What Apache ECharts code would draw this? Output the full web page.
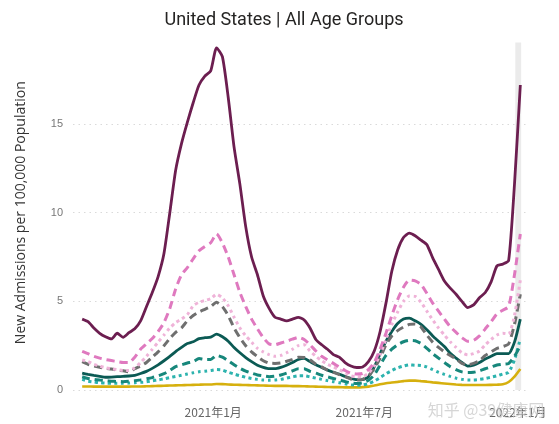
<!DOCTYPE html>
<html><head><meta charset="utf-8">
<script src="https://cdn.jsdelivr.net/npm/echarts@6/dist/echarts.min.js"></script>
<style>html,body{margin:0;padding:0;background:#fff}#c{width:559px;height:424px}</style>
</head><body><div id="c"></div>
<script>
const titleText = 'United States | All Age Groups';
const yAxisName = 'New Admissions per 100,000 Population';
const xTickDates = ['2021-01-01', '2021-07-01', '2022-01-01'];
const yTicks = [0, 5, 10, 15];
const dates = [
 '2020-07-28','2020-08-04','2020-08-11','2020-08-18','2020-08-25','2020-09-01','2020-09-08','2020-09-15','2020-09-22','2020-09-29',
 '2020-10-06','2020-10-13','2020-10-20','2020-10-27','2020-11-03','2020-11-10','2020-11-17','2020-11-24','2020-12-01','2020-12-08',
 '2020-12-15','2020-12-22','2020-12-29','2021-01-05','2021-01-12','2021-01-19','2021-01-26','2021-02-02','2021-02-09','2021-02-16',
 '2021-02-23','2021-03-02','2021-03-09','2021-03-16','2021-03-23','2021-03-30','2021-04-06','2021-04-13','2021-04-20','2021-04-27',
 '2021-05-04','2021-05-11','2021-05-18','2021-05-25','2021-06-01','2021-06-08','2021-06-15','2021-06-22','2021-06-29','2021-07-06',
 '2021-07-13','2021-07-20','2021-07-27','2021-08-03','2021-08-10','2021-08-17','2021-08-24','2021-08-31','2021-09-07','2021-09-14',
 '2021-09-21','2021-09-28','2021-10-05','2021-10-12','2021-10-19','2021-10-26','2021-11-02','2021-11-09','2021-11-16','2021-11-23',
 '2021-11-30','2021-12-07','2021-12-14','2021-12-21','2021-12-28','2022-01-04'
];
const highlightRange = ['2021-12-29', '2022-01-05'];

const yellowSolid = [0.2,0.2,0.19,0.19,0.19,0.19,0.19,0.19,0.19,0.2,
 0.2,0.21,0.22,0.23,0.24,0.25,0.26,0.27,0.28,0.29,
 0.3,0.31,0.31,0.34,0.33,0.31,0.3,0.29,0.28,0.27,
 0.26,0.25,0.24,0.23,0.23,0.23,0.22,0.22,0.21,0.2,
 0.19,0.18,0.17,0.16,0.16,0.15,0.15,0.15,0.16,0.19,
 0.25,0.32,0.38,0.42,0.46,0.5,0.53,0.53,0.5,0.47,
 0.43,0.4,0.37,0.34,0.31,0.29,0.28,0.28,0.28,0.28,
 0.29,0.3,0.32,0.45,0.75,1.18];
const cyanDotted = [0.6,0.5,0.45,0.41,0.39,0.38,0.38,0.38,0.39,0.41,
 0.43,0.46,0.52,0.57,0.63,0.7,0.76,0.83,0.9,0.97,
 1.03,1.06,1.1,1.15,1.12,1.0,0.9,0.8,0.72,0.65,
 0.6,0.56,0.55,0.56,0.6,0.67,0.74,0.8,0.8,0.74,
 0.67,0.6,0.53,0.47,0.41,0.35,0.29,0.27,0.28,0.36,
 0.5,0.7,0.92,1.1,1.25,1.35,1.42,1.4,1.38,1.3,
 1.15,1.0,0.88,0.77,0.67,0.6,0.57,0.57,0.6,0.65,
 0.72,0.8,0.9,1.0,1.7,2.9];
const tealDashed = [0.75,0.65,0.6,0.56,0.53,0.5,0.48,0.47,0.49,0.52,
 0.57,0.63,0.7,0.8,0.92,1.1,1.32,1.42,1.52,1.6,
 1.77,1.72,1.72,1.95,1.85,1.65,1.42,1.22,1.06,0.95,
 0.85,0.8,0.75,0.78,0.85,0.95,1.08,1.2,1.2,1.05,
 0.95,0.83,0.74,0.65,0.57,0.48,0.4,0.37,0.4,0.55,
 0.85,1.4,1.95,2.3,2.55,2.72,2.8,2.78,2.62,2.35,
 2.05,1.8,1.55,1.32,1.15,1.02,0.98,1.0,1.08,1.2,
 1.3,1.41,1.46,1.5,1.9,2.5];
const darkTealSolid = [0.95,0.88,0.82,0.77,0.72,0.73,0.75,0.77,0.79,0.83,
 0.93,1.05,1.22,1.42,1.65,1.9,2.17,2.4,2.62,2.72,
 2.9,2.95,2.98,3.15,3.0,2.75,2.4,2.1,1.83,1.6,
 1.4,1.28,1.2,1.2,1.28,1.4,1.55,1.72,1.78,1.6,
 1.42,1.27,1.12,1.0,0.9,0.76,0.65,0.58,0.58,0.75,
 1.3,2.05,2.75,3.3,3.75,4.0,4.05,3.9,3.7,3.4,
 3.05,2.75,2.45,2.07,1.8,1.55,1.35,1.4,1.55,1.75,
 1.9,2.05,2.05,2.05,2.7,4.0];
const grayDashed = [1.6,1.45,1.35,1.28,1.22,1.18,1.13,1.08,1.03,1.2,
 1.35,1.55,1.85,2.15,2.5,2.9,3.25,3.5,3.9,4.2,
 4.4,4.55,4.7,4.95,4.7,4.2,3.5,2.95,2.5,2.15,
 1.88,1.65,1.52,1.5,1.52,1.62,1.73,1.85,1.83,1.7,
 1.45,1.3,1.12,1.0,0.87,0.75,0.62,0.56,0.6,0.8,
 1.2,1.8,2.55,3.05,3.35,3.55,3.7,3.72,3.55,3.1,
 2.7,2.4,2.15,1.95,1.75,1.5,1.42,1.5,1.65,1.95,
 2.15,2.35,2.45,2.6,3.7,5.4];
const lightPinkDotted = [1.7,1.6,1.45,1.35,1.25,1.2,1.15,1.1,1.1,1.25,
 1.55,1.9,2.3,2.7,3.1,3.5,3.8,4.0,4.25,4.75,
 4.95,5.05,5.15,5.4,5.2,4.75,4.1,3.5,3.05,2.7,
 2.35,2.15,2.0,1.9,1.95,2.1,2.3,2.5,2.55,2.2,
 1.9,1.65,1.45,1.3,1.15,0.98,0.8,0.74,0.75,0.95,
 1.35,2.0,2.85,3.7,4.4,5.0,5.3,5.28,4.95,4.45,
 3.95,3.5,3.1,2.72,2.4,2.1,1.98,2.05,2.2,2.55,
 2.85,3.1,3.2,3.15,4.2,6.2];
const pinkDashed = [2.18,2.05,1.9,1.8,1.72,1.66,1.6,1.55,1.55,1.85,
 2.3,2.6,2.9,3.3,3.8,4.6,5.7,6.5,6.9,7.4,
 7.85,8.1,8.3,8.8,8.3,7.5,6.5,5.5,4.7,4.0,
 3.45,2.95,2.6,2.55,2.65,2.75,2.87,2.97,2.85,2.55,
 2.2,1.9,1.7,1.5,1.3,1.1,0.95,0.9,0.93,1.15,
 1.55,2.3,3.2,4.2,5.1,5.8,6.2,6.15,5.95,5.45,
 4.9,4.45,4.0,3.57,3.25,2.95,2.75,2.8,3.05,3.45,
 3.85,4.3,4.5,4.7,6.5,8.8];
const purpleSolid = [4.0,3.85,3.5,3.2,3.0,2.88,3.2,2.97,3.23,3.45,
 3.9,4.7,5.5,6.4,7.7,10.0,12.4,13.9,15.1,16.2,
 17.2,17.7,18.0,19.3,18.8,16.5,13.7,11.6,9.2,7.5,
 6.5,5.3,4.6,4.1,4.0,3.9,4.0,4.1,3.95,3.5,
 2.85,2.55,2.3,2.0,1.85,1.55,1.35,1.27,1.3,1.6,
 2.2,3.3,4.9,6.7,7.9,8.6,8.85,8.7,8.45,8.2,
 7.45,6.8,6.15,5.75,5.4,5.0,4.65,4.8,5.2,5.5,
 6.1,7.0,7.1,7.3,11.6,17.2];

const watermark = '知乎 @39健康网';

function toDate(s){ const p = s.split('-').map(Number); return Date.UTC(p[0], p[1]-1, p[2]); }
function pairs(arr){ return arr.map((v,i)=>[toDate(dates[i]), v]); }

const defs = [
  {name:'yellow', data:yellowSolid, color:'#D6B00E', type:'solid', width:2.6},
  {name:'cyan', data:cyanDotted, color:'#2DB3AE', type:[3,3.5], width:3},
  {name:'tealDash', data:tealDashed, color:'#17877B', type:[8,5], width:3},
  {name:'darkTeal', data:darkTealSolid, color:'#0B5A54', type:'solid', width:2.8},
  {name:'gray', data:grayDashed, color:'#6F6F6F', type:[8,5], width:3},
  {name:'lightPink', data:lightPinkDotted, color:'#EFB3D8', type:[3,3.5], width:3},
  {name:'pink', data:pinkDashed, color:'#DF79BF', type:[8,5], width:3},
  {name:'purple', data:purpleSolid, color:'#6C1E50', type:'solid', width:2.8}
];

const series = defs.map((d,i)=>({
  name:d.name, type:'line', data:pairs(d.data), showSymbol:false, smooth:0.2,
  lineStyle:{color:d.color, width:d.width, type:d.type, cap:'butt'},
  itemStyle:{color:d.color}, z:2+i, silent:true
}));
series[0].markArea = {
  silent:true,
  itemStyle:{color:'#EBEBEB'},
  data:[[{xAxis:toDate(highlightRange[0]), yAxis:0},{xAxis:toDate(highlightRange[1]), yAxis:19.6}]]
};

const chart = echarts.init(document.getElementById('c'), null, {renderer:'canvas'});
chart.setOption({
  animation:false,
  backgroundColor:'#fff',
  grid:{left:73, right:32, top:35.4, bottom:34, containLabel:false},
  xAxis:{
    type:'value', min:toDate('2020-07-17'), max:toDate('2022-01-12'),
    axisLine:{show:false}, axisTick:{show:false}, splitLine:{show:false},
    axisLabel:{
      customValues: xTickDates.map(toDate),
      showMinLabel:true, showMaxLabel:true,
      color:'#666', fontSize:12, margin:16, fontFamily:'"Noto Sans CJK SC", "Noto Sans", sans-serif',
      formatter:(v)=>{ const d=new Date(v); return d.getUTCFullYear()+'年'+(d.getUTCMonth()+1)+'月'; }
    }
  },
  yAxis:{
    type:'value', min:0, max:20, interval:5,
    name:yAxisName, nameLocation:'middle', nameGap:45, nameRotate:90,
    nameTextStyle:{color:'#333', fontSize:14, fontFamily:'"Open Sans", "Noto Sans", sans-serif'},
    axisLine:{show:false}, axisTick:{show:false},
    axisLabel:{color:'#777', fontSize:11, margin:10, showMaxLabel:false,
      formatter:(v)=> yTicks.indexOf(v)>=0 ? String(v) : ''},
    splitLine:{show:true, lineStyle:{color:['#dadada','#dadada','#dadada','#dadada','rgba(0,0,0,0)'], type:[1.5,4], width:1}}
  },
  graphic:[
    {type:'text', x:284, y:20, z:10, style:{text:titleText, fill:'#252423', font:'18px Roboto, "DejaVu Sans", sans-serif', textAlign:'center', textVerticalAlign:'middle'}},
    {type:'text', x:486, y:410, z:100, style:{text:watermark, fill:'rgba(200,200,200,0.75)', font:'16px "Noto Sans CJK SC", sans-serif', textAlign:'center', textVerticalAlign:'middle'}}
  ],
  series:series
});
</script>
</body></html>
